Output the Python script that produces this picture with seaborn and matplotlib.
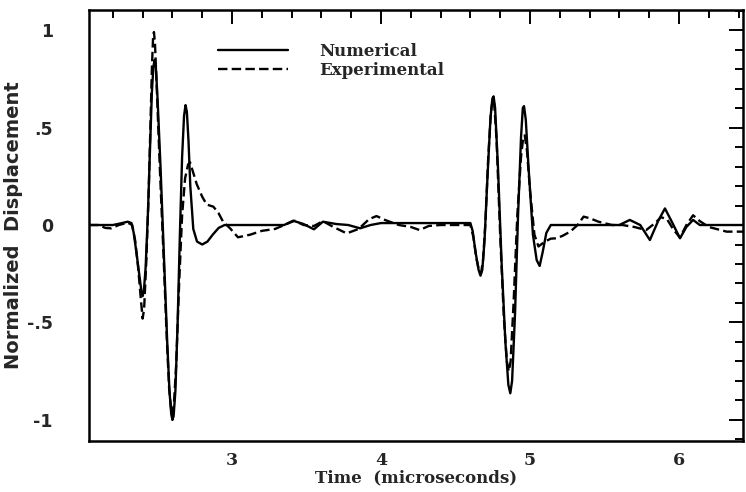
import numpy as np
import pandas as pd
import seaborn as sns
import matplotlib
matplotlib.use("Agg")
import matplotlib.pyplot as plt
from matplotlib.ticker import MultipleLocator, FixedLocator, FixedFormatter
from matplotlib.lines import Line2D

# ---- data ----
num_t = [2.04, 2.20, 2.25, 2.30, 2.325, 2.34, 2.36, 2.38, 2.392, 2.40, 2.408, 2.42,
         2.435, 2.45, 2.462, 2.472, 2.48, 2.488, 2.50, 2.52, 2.545, 2.565, 2.58,
         2.592, 2.60, 2.608, 2.62, 2.635, 2.65, 2.665, 2.678, 2.688, 2.697, 2.708,
         2.72, 2.74, 2.765, 2.80, 2.835, 2.87, 2.91, 2.95,
         3.2, 3.35, 3.41, 3.48, 3.55, 3.61, 3.70, 3.78, 3.86, 3.93, 4.0, 4.55,
         4.60, 4.615, 4.635, 4.655, 4.668, 4.68, 4.695, 4.715, 4.735, 4.748, 4.756,
         4.766, 4.785, 4.81, 4.835, 4.855, 4.868, 4.88, 4.90, 4.92, 4.94, 4.952,
         4.96, 4.972, 4.99, 5.02, 5.045, 5.065, 5.085, 5.11, 5.14,
         5.6, 5.67, 5.74, 5.805, 5.86, 5.906, 5.95, 6.007, 6.05, 6.095, 6.14, 6.43]
num_y = [0.0, 0.0, 0.008, 0.017, 0.01, -0.04, -0.15, -0.27, -0.34, -0.365, -0.34, -0.22,
         0.05, 0.40, 0.68, 0.81, 0.846, 0.82, 0.65, 0.30, -0.20, -0.60, -0.85,
         -0.97, -1.0, -0.98, -0.85, -0.50, -0.05, 0.35, 0.56, 0.615, 0.58, 0.43,
         0.20, -0.02, -0.085, -0.10, -0.085, -0.05, -0.015, 0.0,
         0.0, 0.0, 0.022, 0.005, -0.022, 0.017, 0.005, 0.0, -0.017, 0.0, 0.01, 0.01,
         0.01, -0.03, -0.14, -0.23, -0.26, -0.23, -0.08, 0.25, 0.55, 0.65, 0.66,
         0.60, 0.30, -0.20, -0.60, -0.82, -0.863, -0.80, -0.45, 0.05, 0.45, 0.60,
         0.61, 0.54, 0.30, -0.05, -0.18, -0.21, -0.14, -0.04, 0.0,
         0.0, 0.026, 0.0, -0.077, 0.02, 0.085, 0.02, -0.068, -0.01, 0.026, 0.0, 0.0]

exp_t = [2.04, 2.10, 2.15, 2.19, 2.24, 2.30, 2.33, 2.35, 2.37, 2.388, 2.40, 2.41,
         2.425, 2.44, 2.452, 2.462, 2.47, 2.476, 2.483, 2.495, 2.515, 2.54, 2.562,
         2.578, 2.592, 2.60, 2.61, 2.625, 2.645, 2.665, 2.685, 2.705, 2.718, 2.735,
         2.763, 2.80, 2.83, 2.875, 2.91, 2.94, 2.987, 3.04, 3.12, 3.2, 3.29,
         3.35, 3.42, 3.48, 3.55, 3.61, 3.68, 3.77, 3.85, 3.92, 3.97, 4.03, 4.12,
         4.20, 4.26, 4.32, 4.4,
         4.60, 4.62, 4.64, 4.66, 4.672, 4.685, 4.70, 4.72, 4.738, 4.75, 4.76, 4.775,
         4.80, 4.825, 4.845, 4.858, 4.87, 4.89, 4.915, 4.94, 4.955, 4.965, 4.98,
         5.0, 5.03, 5.057, 5.10, 5.14, 5.18, 5.22, 5.27, 5.32, 5.36, 5.40, 5.46,
         5.55, 5.62, 5.70, 5.78, 5.84, 5.88, 5.92, 5.96, 6.007, 6.05, 6.095, 6.14,
         6.2, 6.32, 6.43]
exp_y = [0.0, 0.0, -0.015, -0.017, 0.0, 0.012, 0.0, -0.08, -0.22, -0.38, -0.48, -0.43,
         -0.18, 0.15, 0.50, 0.80, 0.96, 0.99, 0.93, 0.70, 0.30, -0.15, -0.58,
         -0.84, -0.95, -0.97, -0.92, -0.72, -0.30, 0.05, 0.24, 0.31, 0.322, 0.28,
         0.21, 0.145, 0.105, 0.094, 0.06, 0.017, -0.017, -0.063, -0.05, -0.03, -0.02,
         0.0, 0.022, 0.0, -0.005, 0.02, -0.01, -0.043, -0.02, 0.03, 0.046, 0.025, 0.0,
         -0.01, -0.026, -0.005, 0.0,
         0.0, -0.06, -0.17, -0.24, -0.245, -0.18, 0.0, 0.35, 0.58, 0.645, 0.62, 0.45,
         -0.05, -0.48, -0.70, -0.75, -0.70, -0.40, 0.05, 0.35, 0.45, 0.46, 0.38,
         0.18, -0.05, -0.11, -0.085, -0.07, -0.068, -0.055, -0.034, 0.0, 0.043, 0.035, 0.017,
         0.0, 0.0, -0.01, -0.026, 0.01, 0.04, 0.03, -0.02, -0.065, 0.0, 0.05, 0.02,
         -0.01, -0.034, -0.034]

series_names = ["Numerical", "Experimental"]
y_tick_values = [-1, -0.5, 0, 0.5, 1]
y_tick_labels = ["-1", "-.5", "0", ".5", "1"]
x_tick_values = [3, 4, 5, 6]
x_tick_labels = ["3", "4", "5", "6"]

df = pd.concat([
    pd.DataFrame({"t": num_t, "y": num_y, "series": series_names[0]}),
    pd.DataFrame({"t": exp_t, "y": exp_y, "series": series_names[1]}),
], ignore_index=True)

sns.set_style("white")
fig = plt.figure(figsize=(7.46, 4.92), dpi=100)
ax = fig.add_axes([89/746, 1-441/492, (743-89)/746, (441-10)/492])

sns.lineplot(data=df, x="t", y="y", hue="series", style="series",
             palette={"Numerical": "black", "Experimental": "black"},
             dashes={"Numerical": "", "Experimental": (4, 1.8)},
             linewidth=1.7, sort=False, estimator=None, legend=False, ax=ax)

ax.set_xlim(2.04, 6.43)
ax.set_ylim(-1.108, 1.103)

ax.xaxis.set_major_locator(FixedLocator(x_tick_values))
ax.xaxis.set_major_formatter(FixedFormatter(x_tick_labels))
ax.xaxis.set_minor_locator(MultipleLocator(0.2))
ax.yaxis.set_major_locator(FixedLocator(y_tick_values))
ax.yaxis.set_major_formatter(FixedFormatter(y_tick_labels))
ax.yaxis.set_minor_locator(MultipleLocator(0.1))

ax.tick_params(which="both", direction="in", top=True, right=True, width=1.4, color="black")
ax.tick_params(which="major", length=10)
ax.tick_params(which="minor", length=5.5)
ax.tick_params(axis="y", which="major", pad=26)
ax.tick_params(axis="x", which="major", pad=8)

for lab in ax.get_yticklabels():
    lab.set_fontfamily("DejaVu Sans")
    lab.set_fontweight("bold")
    lab.set_fontsize(12.5)
for lab in ax.get_xticklabels():
    lab.set_fontfamily("DejaVu Serif")
    lab.set_fontweight("bold")
    lab.set_fontsize(12.5)

for sp in ax.spines.values():
    sp.set_visible(True)
    sp.set_linewidth(1.8)
    sp.set_color("black")

ax.set_xlabel("Time  (microseconds)", fontfamily="DejaVu Serif", fontweight="bold",
              fontsize=12, labelpad=0)
ax.set_ylabel("Normalized  Displacement", fontfamily="DejaVu Sans", fontweight="bold",
              fontsize=14)
ax.yaxis.set_label_coords(-0.101, 0.5)

handles = [Line2D([], [], color="black", lw=1.7),
           Line2D([], [], color="black", lw=1.7, dashes=(4, 1.8))]
leg = ax.legend(handles, series_names, loc="upper left",
                bbox_to_anchor=((218-89)/654, (441-43)/431), frameon=False,
                borderpad=0, borderaxespad=0, handlelength=4.2, handletextpad=1.9,
                labelspacing=0.1, prop={"family": "DejaVu Serif", "weight": "bold", "size": 12})

fig.savefig("out.png", dpi=100)
